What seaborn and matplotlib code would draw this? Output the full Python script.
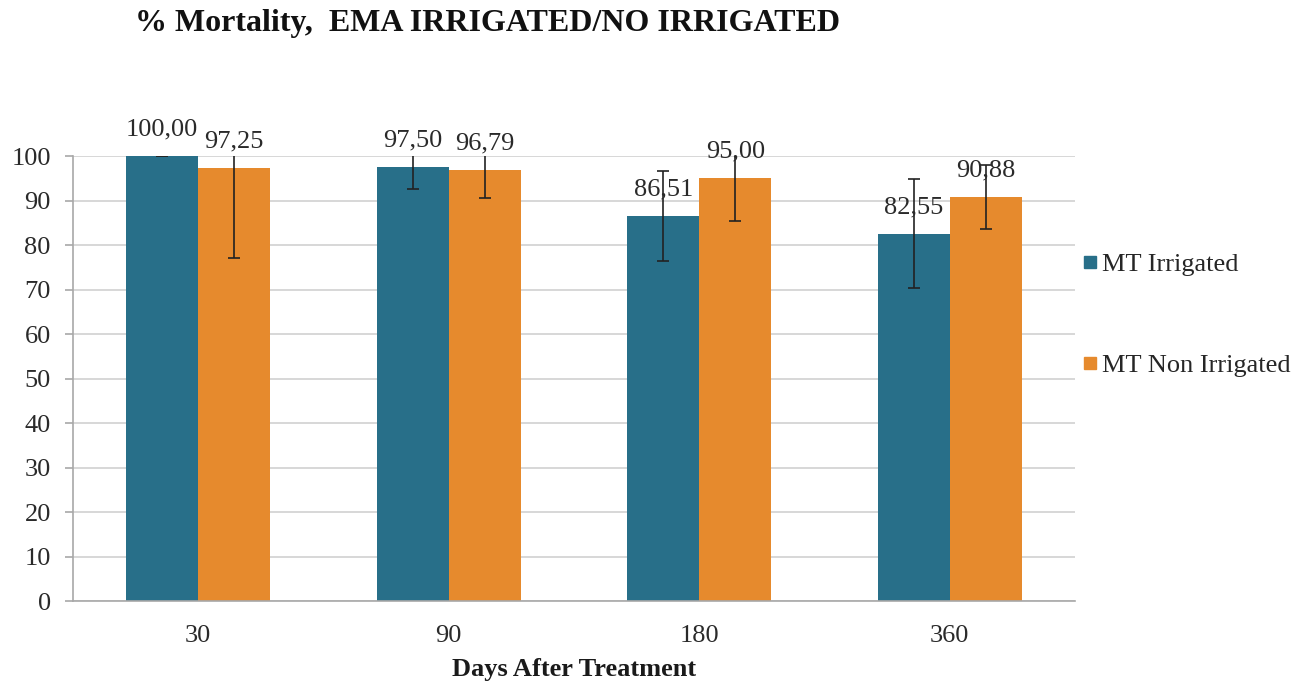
import numpy as np
import pandas as pd
import matplotlib
matplotlib.use("Agg")
import matplotlib.pyplot as plt
import seaborn as sns
from matplotlib.lines import Line2D

# values
days = ["30", "90", "180", "360"]
irrigated = [100.00, 97.50, 86.51, 82.55]
non_irrigated = [97.25, 96.79, 95.00, 90.88]
irrigated_err = [0.0, 4.8, 10.2, 12.2]
non_irrigated_err = [20.2, 6.3, 9.7, 7.2]
series_names = ["MT Irrigated", "MT Non Irrigated"]
colors = ["#286f89", "#e68a2d"]

df = pd.DataFrame({
    "Days": days * 2,
    "Mortality": irrigated + non_irrigated,
    "Series": [series_names[0]] * 4 + [series_names[1]] * 4,
})
errs = [irrigated_err, non_irrigated_err]
vals = [irrigated, non_irrigated]

sns.set_style("white")
plt.rcParams["font.family"] = ["Liberation Serif", "DejaVu Serif"]

fig = plt.figure(figsize=(13.02, 6.85), dpi=100)
ax = fig.add_axes([0.0561, 0.1226, 0.7696, 0.6496])

sns.barplot(data=df, x="Days", y="Mortality", hue="Series", order=days,
            hue_order=series_names, palette=colors, width=0.575,
            errorbar=None, saturation=1, legend=False, ax=ax, zorder=2,
            linewidth=0)

ax.set_ylim(0, 100)
ax.set_xlim(-0.5, 3.5)

bar_groups = list(ax.containers)
for i, cont in enumerate(bar_groups):
    xs = [p.get_x() + p.get_width() / 2 for p in cont.patches]
    ax.errorbar(xs, vals[i], yerr=errs[i], fmt="none", ecolor="#222222",
                elinewidth=1.2, capsize=4.2, capthick=1.2, zorder=3, clip_on=True)
    for x, v in zip(xs, vals[i]):
        ax.annotate(f"{v:.2f}".replace(".", ","), xy=(x, v), xytext=(0, 19),
                    textcoords="offset points", ha="center", va="center",
                    fontsize=19, color="#2a2a2a", annotation_clip=False, zorder=4)

ax.set_yticks(range(0, 101, 10))
ax.yaxis.grid(True, color="#d4d4d4", linewidth=1.3, zorder=0)
ax.set_axisbelow(True)
for s in ["top", "right"]:
    ax.spines[s].set_visible(False)
for s in ["left", "bottom"]:
    ax.spines[s].set_color("#a8a8a8")
    ax.spines[s].set_linewidth(1.2)

ax.set_xticks([-0.5, 0.5, 1.5, 2.5, 3.5], minor=True)
ax.tick_params(axis="x", which="major", length=0, labelsize=19, pad=17, colors="#2a2a2a")
ax.tick_params(axis="x", which="minor", length=7, width=1.2, color="#a8a8a8", direction="out")
ax.tick_params(axis="y", length=6, width=1.2, color="#a8a8a8", labelsize=19,
               labelcolor="#2a2a2a", direction="out", left=True, pad=10)

ax.set_ylabel("")
ax.set_xlabel("Days After Treatment", fontsize=19, fontweight="bold", labelpad=8, color="#1a1a1a")

fig.text(0.104, 0.965, "% Mortality,  EMA IRRIGATED/NO IRRIGATED", fontsize=23,
         fontweight="bold", ha="left", va="center", color="#111111")

handles = [Line2D([], [], marker="s", linestyle="none", markersize=8,
                  markerfacecolor=c, markeredgecolor=c) for c in colors]
fig.legend(handles, series_names, loc="upper left", bbox_to_anchor=(0.811, 0.666),
           frameon=False, fontsize=19, labelspacing=2.95, handletextpad=0.05,
           handlelength=0.8)

fig.savefig("out.png", dpi=100)
